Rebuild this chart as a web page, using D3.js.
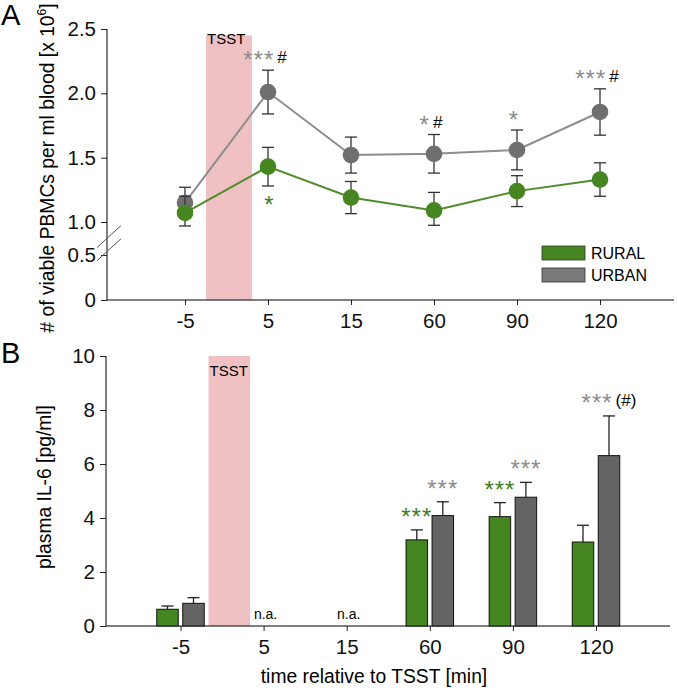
<!DOCTYPE html>
<html><head><meta charset="utf-8">
<script src="https://cdn.jsdelivr.net/npm/d3@7"></script>
<style>
body{margin:0;background:#fff;}
svg{display:block;font-family:"Liberation Sans",Arial,sans-serif;}
</style></head>
<body><svg id="chart" width="677" height="692"></svg>
<script>
// ---------- data ----------
const categories = ["-5","5","15","60","90","120"];
const seriesNames = ["RURAL","URBAN"];
// Panel A: viable PBMCs per ml blood [x10^6]
const pbmcRural   = [1.07, 1.43, 1.19, 1.09, 1.24, 1.33];
const pbmcRuralSE = [0.13, 0.15, 0.125, 0.14, 0.12, 0.13];
const pbmcUrban   = [1.15, 2.01, 1.52, 1.53, 1.56, 1.855];
const pbmcUrbanSE = [0.12, 0.17, 0.14, 0.15, 0.155, 0.18];
const yTicksA = [0, 0.5, 1.0, 1.5, 2.0, 2.5];
const yTickLabelsA = ["0","0.5","1.0","1.5","2.0","2.5"];
// Panel B: plasma IL-6 [pg/ml] (null = n.a.)
const il6Rural   = [0.62, null, null, 3.19, 4.05, 3.11];
const il6RuralSE = [0.12, null, null, 0.37, 0.52, 0.62];
const il6Urban   = [0.84, null, null, 4.09, 4.77, 6.31];
const il6UrbanSE = [0.21, null, null, 0.51, 0.55, 1.47];
const yTicksB = [0, 2, 4, 6, 8, 10];
const naCategories = ["5","15"];
// significance annotations
const annotA = [
  {cat:"5",   series:"URBAN", stars:"***", hash:"#"},
  {cat:"60",  series:"URBAN", stars:"*",   hash:"#"},
  {cat:"90",  series:"URBAN", stars:"*",   hash:""},
  {cat:"120", series:"URBAN", stars:"***", hash:"#"}
];
const annotABelow = [{cat:"5", series:"RURAL", stars:"*"}];
const annotB = [
  {cat:"60",  series:"RURAL", stars:"***", hash:""},
  {cat:"60",  series:"URBAN", stars:"***", hash:""},
  {cat:"90",  series:"RURAL", stars:"***", hash:""},
  {cat:"90",  series:"URBAN", stars:"***", hash:""},
  {cat:"120", series:"URBAN", stars:"***", hash:"(#)"}
];

// ---------- styles ----------
const FONT = "'Liberation Sans',Arial,sans-serif";
const GREEN = "#468620", GREEN_LINE = "#4f8c2a", GREEN_STAR = "#3f7d1d";
const GRAY_PT = "#6f6f6f", GRAY_LINE = "#8d8d8d", GRAY_STAR = "#8c8c8c", GRAY_BAR = "#646464";
const TSST_COL = "#efc1c3";
const TICK_FS = 20.5, TITLE_FS = 19.3;

const svg = d3.select("#chart");

// ================= Panel A =================
const xA = d3.scalePoint().domain(categories).range([185, 600]);
const yA = d3.scaleLinear().domain([0, 0.5, 1.0, 2.5]).range([300, 255, 222, 29]);
const axA = {left:107, right:674, bottom:300, top:29};

svg.append("rect")
  .attr("x", xA("-5") + 21).attr("width", xA("5") - xA("-5") - 37)
  .attr("y", yA(2.45)).attr("height", yA(0) - yA(2.45))
  .attr("fill", TSST_COL);
svg.append("text").attr("x", xA("-5") + 22).attr("y", 44)
  .attr("font-size", 15).attr("font-family", FONT).text("TSST");

const gyA = svg.append("g").attr("transform", `translate(${axA.left},0)`)
  .call(d3.axisLeft(yA).tickValues(yTicksA).tickFormat((d,i)=>yTickLabelsA[i]).tickSize(6).tickPadding(5));
gyA.select(".domain").remove();
gyA.append("line").attr("x1",0).attr("x2",0).attr("y1",axA.top).attr("y2",axA.bottom).attr("stroke","#000");
const gxA = svg.append("g").attr("transform", `translate(0,${axA.bottom})`)
  .call(d3.axisBottom(xA).tickSize(5).tickPadding(8));
gxA.select(".domain").remove();
gxA.append("line").attr("x1",axA.left).attr("x2",axA.right).attr("stroke","#000");
[gyA, gxA].forEach(g => g.selectAll("text").attr("font-size", TICK_FS).attr("font-family", FONT).attr("fill","#111"));
[gyA, gxA].forEach(g => g.selectAll(".tick line").attr("stroke","#222"));

[yA(0.78), yA(0.58)].forEach(yy => {
  svg.append("line").attr("x1", axA.left - 10).attr("y1", yy + 11)
    .attr("x2", axA.left + 14).attr("y2", yy - 11)
    .attr("stroke", "#555").attr("stroke-width", 1);
});

const pbmcSeries = [
  {name:"URBAN", vals:pbmcUrban, se:pbmcUrbanSE, line:GRAY_LINE, pt:GRAY_PT},
  {name:"RURAL", vals:pbmcRural, se:pbmcRuralSE, line:GREEN_LINE, pt:GREEN}
];
const lineGen = d3.line().x((d,i)=>xA(categories[i])).y(d=>yA(d));
pbmcSeries.forEach(s => {
  svg.append("path").datum(s.vals).attr("d", lineGen)
    .attr("fill","none").attr("stroke", s.line).attr("stroke-width", 2);
});
pbmcSeries.forEach(s => {
  const g = svg.append("g");
  s.vals.forEach((v,i) => {
    const cx = xA(categories[i]);
    const y1 = yA(v + s.se[i]), y2 = yA(v - s.se[i]);
    g.append("line").attr("x1",cx).attr("x2",cx).attr("y1",y1).attr("y2",y2).attr("stroke","#333").attr("stroke-width",1.3);
    [y1,y2].forEach(yy => g.append("line").attr("x1",cx-6).attr("x2",cx+6).attr("y1",yy).attr("y2",yy).attr("stroke","#333").attr("stroke-width",1.3));
  });
  g.selectAll("circle").data(s.vals).join("circle")
    .attr("cx",(d,i)=>xA(categories[i])).attr("cy",d=>yA(d)).attr("r",8.3)
    .attr("fill", s.pt);
});

function seriesA(name){ return name==="URBAN" ? {v:pbmcUrban, se:pbmcUrbanSE} : {v:pbmcRural, se:pbmcRuralSE}; }
function starText(parent, x, y, a, starCol){
  const t = parent.append("text").attr("x", x).attr("y", y)
    .attr("text-anchor","middle").attr("font-family", FONT);
  t.append("tspan").attr("font-size", 24).attr("letter-spacing", 1).attr("dy", 5).attr("fill", starCol).text(a.stars);
  if (a.hash) t.append("tspan").attr("font-size", 17).attr("dx", 3).attr("dy", -5).attr("fill","#000").text(a.hash);
}
annotA.forEach(a => {
  const s = seriesA(a.series), i = categories.indexOf(a.cat);
  starText(svg, xA(a.cat) - 3, yA(s.v[i] + s.se[i]) - 7, a, a.series==="URBAN"?GRAY_STAR:GREEN_STAR);
});
annotABelow.forEach(a => {
  const s = seriesA(a.series), i = categories.indexOf(a.cat);
  svg.append("text").attr("x", xA(a.cat)+1).attr("y", yA(s.v[i] - s.se[i]) + 27)
    .attr("text-anchor","middle").attr("font-family",FONT).attr("font-size",24)
    .attr("fill", GREEN_STAR).text(a.stars);
});

const legend = svg.append("g").attr("transform","translate(542,246)");
[{n:"RURAL",c:GREEN},{n:"URBAN",c:"#7a7a7a"}].forEach((d,i) => {
  legend.append("rect").attr("x",0).attr("y",i*22).attr("width",43).attr("height",14)
    .attr("fill",d.c).attr("stroke","#333").attr("stroke-width",0.8);
  legend.append("text").attr("x",49).attr("y",i*22+13).attr("font-size",16)
    .attr("font-family",FONT).text(d.n);
});

const ylA = svg.append("text").attr("transform","translate(54,168) rotate(-90)")
  .attr("text-anchor","middle").attr("font-size",TITLE_FS).attr("font-family",FONT);
ylA.append("tspan").text("# of viable PBMCs per ml blood [x 10");
ylA.append("tspan").attr("font-size",12).attr("dy",-8).text("6");
ylA.append("tspan").attr("dy",8).text("]");

svg.append("text").attr("x",1).attr("y",25).attr("font-size",29).attr("font-family",FONT).text("A");

// ================= Panel B =================
const xB = d3.scalePoint().domain(categories).range([180.5, 596]);
const yB = d3.scaleLinear().domain([0, 10]).range([626, 356]);
const axB = {left:106, right:670};
const inner = d3.scaleBand().domain(seriesNames).range([-23.75, 23.75]).paddingInner(0.173);

svg.append("rect")
  .attr("x", xB("-5") + 28).attr("width", xB("5") - xB("-5") - 41.5)
  .attr("y", yB(10)).attr("height", yB(0) - yB(10)).attr("fill", TSST_COL);
svg.append("text").attr("x", xB("-5") + 29).attr("y", 376)
  .attr("font-size", 15).attr("font-family", FONT).text("TSST");

const gyB = svg.append("g").attr("transform", `translate(${axB.left},0)`)
  .call(d3.axisLeft(yB).tickValues(yTicksB).tickSize(6).tickPadding(5));
gyB.select(".domain").remove();
gyB.append("line").attr("y1",yB(10)).attr("y2",yB(0)).attr("stroke","#000");
const gxB = svg.append("g").attr("transform", `translate(0,${yB(0)})`)
  .call(d3.axisBottom(xB).tickSize(5).tickPadding(8));
gxB.select(".domain").remove();
gxB.append("line").attr("x1",axB.left).attr("x2",axB.right).attr("stroke","#000");
[gyB, gxB].forEach(g => g.selectAll("text").attr("font-size", TICK_FS).attr("font-family", FONT).attr("fill","#111"));
[gyB, gxB].forEach(g => g.selectAll(".tick line").attr("stroke","#222"));

const il6Series = [
  {name:"RURAL", vals:il6Rural, se:il6RuralSE, fill:GREEN},
  {name:"URBAN", vals:il6Urban, se:il6UrbanSE, fill:GRAY_BAR}
];
il6Series.forEach(s => {
  const g = svg.append("g");
  s.vals.forEach((v,i) => {
    if (v === null) return;
    const x0 = xB(categories[i]) + inner(s.name), w = inner.bandwidth(), cx = x0 + w/2;
    const yt = yB(v + s.se[i]);
    g.append("line").attr("x1",cx).attr("x2",cx).attr("y1",yt).attr("y2",yB(v)).attr("stroke","#222").attr("stroke-width",1.3);
    g.append("line").attr("x1",cx-6).attr("x2",cx+6).attr("y1",yt).attr("y2",yt).attr("stroke","#222").attr("stroke-width",1.3);
    g.append("rect").attr("x",x0).attr("width",w).attr("y",yB(v)).attr("height",yB(0)-yB(v))
      .attr("fill",s.fill).attr("stroke","#111").attr("stroke-width",1);
  });
});
annotB.forEach(a => {
  const s = a.series==="URBAN" ? il6Series[1] : il6Series[0], i = categories.indexOf(a.cat);
  const cx = xB(a.cat) + inner(a.series) + inner.bandwidth()/2;
  starText(svg, cx, yB(s.vals[i] + s.se[i]) - 10, a, a.series==="URBAN"?GRAY_STAR:GREEN_STAR);
});
naCategories.forEach(c => {
  svg.append("text").attr("x", xB(c)+2).attr("y", 619).attr("text-anchor","middle")
    .attr("font-size",14).attr("font-family",FONT).text("n.a.");
});

svg.append("text").attr("transform","translate(51,487) rotate(-90)")
  .attr("text-anchor","middle").attr("font-size",TITLE_FS).attr("font-family",FONT)
  .text("plasma IL-6 [pg/ml]");
svg.append("text").attr("x",374).attr("y",683).attr("text-anchor","middle")
  .attr("font-size",TITLE_FS).attr("font-family",FONT).text("time relative to TSST [min]");
svg.append("text").attr("x",1).attr("y",363).attr("font-size",29).attr("font-family",FONT).text("B");
</script></body></html>
